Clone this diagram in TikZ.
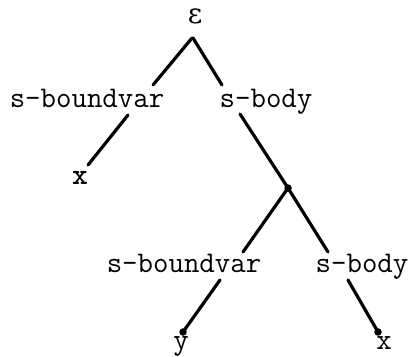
\documentclass[tikz,border=0pt]{standalone}
\usepackage{fontspec}
\usepackage{tikz}
\usetikzlibrary{positioning,calc}
\newfontfamily\greekfont{DejaVu Serif}

\begin{document}
\begin{tikzpicture}[x=1pt, y=-1pt, thick,
    lbl/.style={font=\fontsize{30}{32}\selectfont\ttfamily, inner sep=0pt, anchor=base},
    edge/.style={line width=3.2pt, line cap=round},
    knot/.style={circle, fill, inner sep=0pt, minimum size=7.5pt}]
        \useasboundingbox (0,0) rectangle (411,356);
        \node[lbl, font=\fontsize{28}{30}\selectfont\greekfont] (eps) at (195,23) {ε};
        \node[lbl] (bvar) at (87,107) {s-boundvar};
        \node[lbl] (body) at (266,107) {s-body};
        \node[lbl, font=\fontsize{30}{32}\selectfont\ttfamily\bfseries] (xa) at (80,184) {x};
        \node[knot] (inner) at (288,188) {};
        \node[lbl] (bvarb) at (184,272) {s-boundvar};
        \node[lbl] (bodyb) at (362,272) {s-body};
        \node[knot] (ydot) at (183,332) {};
        \node[knot] (xdot) at (378,332) {};
        \node[lbl] (yb) at (181,349) {y};
        \node[lbl] (xb) at (384,349) {x};

        \draw[edge] ($(eps.base)+(-3,15)$) -- ($(bvar.base)+(66,-22)$);
        \draw[edge] ($(eps.base)+(-2,15)$) -- ($(body.base)+(-44,-22)$);
        \draw[edge] ($(bvar.base)+(41,8)$) -- ($(xa.base)+(8,-19)$);
        \draw[edge] ($(body.base)+(-26,7)$) -- (inner.center);
        \draw[edge] (inner.center) -- ($(bvarb.base)+(59,-20)$);
        \draw[edge] (inner.center) -- ($(bodyb.base)+(-34,-20)$);
        \draw[edge] ($(bvarb.base)+(36,8)$) -- (ydot.center);
        \draw[edge] ($(bodyb.base)+(-14,8)$) -- (xdot.center);
    \end{tikzpicture}
\end{document}
